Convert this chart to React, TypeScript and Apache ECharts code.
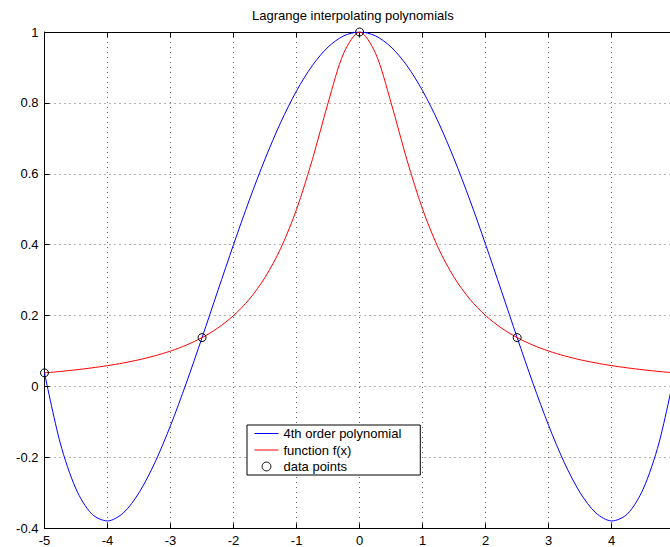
import React, { useEffect, useRef } from "react";
import * as echarts from "echarts";

const xs = [
  -5, -4.75, -4.5, -4.25, -4, -3.75, -3.5, -3.25, -3, -2.75, -2.5, -2.25, -2, -1.75, -1.5, -1.25, -1, -0.75, -0.5, -0.25,
  0, 0.25, 0.5, 0.75, 1, 1.25, 1.5, 1.75, 2, 2.25, 2.5, 2.75, 3, 3.25, 3.5, 3.75, 4, 4.25, 4.5, 4.75, 5,
];

const polyValues = [
  0.0385, -0.1596, -0.2891, -0.3595, -0.3793, -0.3568, -0.2997, -0.2153, -0.1101, 0.0096, 0.1379, 0.2698, 0.4005,
  0.5258, 0.6419, 0.7456, 0.8342, 0.9054, 0.9576, 0.9893, 1.0, 0.9893, 0.9576, 0.9054, 0.8342, 0.7456, 0.6419,
  0.5258, 0.4005, 0.2698, 0.1379, 0.0096, -0.1101, -0.2153, -0.2997, -0.3568, -0.3793, -0.3595, -0.2891, -0.1596,
  0.0385,
];

const funcValues = [
  0.0385, 0.0424, 0.0471, 0.0525, 0.0588, 0.0664, 0.0755, 0.0865, 0.1, 0.1168, 0.1379, 0.165, 0.2, 0.2462, 0.3077,
  0.3902, 0.5, 0.64, 0.8, 0.9412, 1.0, 0.9412, 0.8, 0.64, 0.5, 0.3902, 0.3077, 0.2462, 0.2, 0.165, 0.1379, 0.1168,
  0.1, 0.0865, 0.0755, 0.0664, 0.0588, 0.0525, 0.0471, 0.0424, 0.0385,
];

const pointX = [-5, -2.5, 0, 2.5, 5];
const pointY = [0.0385, 0.1379, 1.0, 0.1379, 0.0385];

const seriesNames = ["4th order polynomial", "function f(x)", "data points"];
const titleText = "Lagrange interpolating polynomials";

const BLUE = "#0000ff";
const RED = "#ff0000";
const FONT = "'Liberation Sans', Arial, Helvetica, sans-serif";

export default function App() {
  const ref = useRef<HTMLDivElement>(null);
  useEffect(() => {
    document.body.style.margin = "0";
    const chart = echarts.init(ref.current!, null, { renderer: "svg" });
    const pair = (a: number[], b: number[]) => a.map((x, i) => [x, b[i]]);
    const dotted = { show: true, lineStyle: { color: "#666", width: 1, type: [1, 4] as any } };
    chart.setOption({
      animation: false,
      backgroundColor: "#fff",
      textStyle: { fontFamily: FONT },
      title: {
        text: titleText,
        left: 252,
        top: 9,
        padding: 0,
        textStyle: { fontSize: 13, fontWeight: "normal", color: "#000", fontFamily: FONT },
      },
      grid: {
        left: 44.5,
        top: 32,
        width: 630.2,
        height: 496.3,
        containLabel: false,
        outerBoundsMode: "none",
      },
      xAxis: [
        {
          type: "value",
          min: -5,
          max: 5,
          interval: 1,
          position: "bottom",
          axisLine: { show: true, onZero: false, lineStyle: { color: "#000", width: 1 } },
          axisTick: { show: true, inside: true, length: 5, lineStyle: { color: "#000" } },
          axisLabel: { color: "#000", fontSize: 13, margin: 6, fontFamily: FONT, showMaxLabel: false },
          splitLine: dotted,
        },
        {
          type: "value",
          min: -5,
          max: 5,
          interval: 1,
          position: "top",
          axisLine: { show: true, onZero: false, lineStyle: { color: "#000", width: 1 } },
          axisTick: { show: true, inside: true, length: 5, lineStyle: { color: "#000" } },
          axisLabel: { show: false },
          splitLine: { show: false },
        },
      ],
      yAxis: [
        {
          type: "value",
          min: -0.4,
          max: 1,
          interval: 0.2,
          position: "left",
          axisLine: { show: true, onZero: false, lineStyle: { color: "#000", width: 1 } },
          axisTick: { show: true, inside: true, length: 5, lineStyle: { color: "#000" } },
          axisLabel: { color: "#000", fontSize: 13, margin: 6, fontFamily: FONT },
          splitLine: dotted,
        },
      ],
      legend: {
        orient: "vertical",
        left: 247,
        top: 425,
        padding: [2, 19, 2, 7],
        itemWidth: 24,
        itemHeight: 11,
        itemGap: 3.5,
        itemTextGap: 7,
        selectedMode: false,
        backgroundColor: "#fff",
        borderColor: "#000",
        borderWidth: 1,
        textStyle: { color: "#000", fontSize: 13, fontFamily: FONT },
        data: [
          { name: seriesNames[0], itemStyle: { opacity: 0 }, lineStyle: { color: BLUE, width: 1 } },
          { name: seriesNames[1], itemStyle: { opacity: 0 }, lineStyle: { color: RED, width: 1 } },
          {
            name: seriesNames[2],
            lineStyle: { opacity: 0 },
            itemStyle: { color: "rgba(0,0,0,0)", borderColor: "#000", borderWidth: 1 },
          },
        ],
        z: 10,
      },
      series: [
        {
          name: seriesNames[0],
          type: "line",
          data: pair(xs, polyValues),
          symbol: "none",
          smooth: 0.3,
          lineStyle: { color: BLUE, width: 1 },
          itemStyle: { color: BLUE },
        },
        {
          name: seriesNames[1],
          type: "line",
          data: pair(xs, funcValues),
          symbol: "none",
          smooth: 0.3,
          lineStyle: { color: RED, width: 1 },
          itemStyle: { color: RED },
        },
        {
          name: seriesNames[2],
          type: "line",
          data: pair(pointX, pointY),
          symbol: "circle",
          showSymbol: true,
          symbolSize: 8,
          clip: false,
          lineStyle: { opacity: 0, width: 0 },
          itemStyle: { color: "rgba(0,0,0,0)", borderColor: "#000", borderWidth: 1 },
          z: 5,
        },
      ],
    });
    return () => chart.dispose();
  }, []);
  return <div ref={ref} style={{ width: 670, height: 547 }} />;
}
